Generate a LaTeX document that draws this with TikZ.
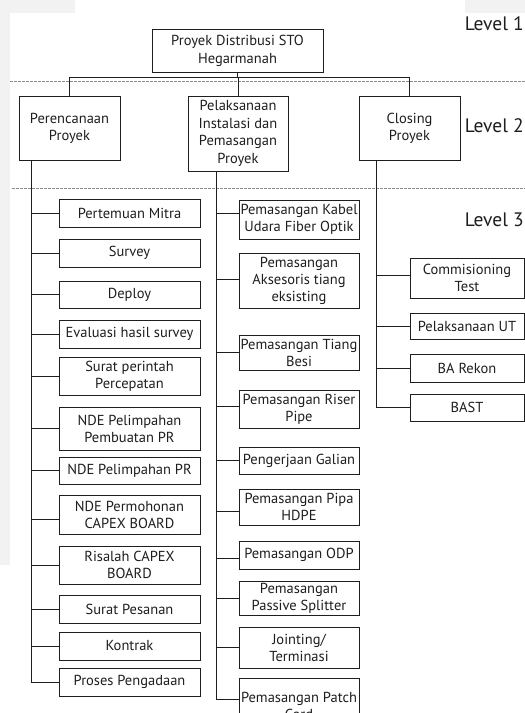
\documentclass[tikz,border=0pt]{standalone}
\usepackage{fontspec}
\setmainfont{PT Sans}
\definecolor{bgray}{HTML}{F2F2F2}
\definecolor{ink}{HTML}{1E1E1E}
\definecolor{dashc}{HTML}{8A8A8A}
\begin{document}
\begin{tikzpicture}[x=1pt,y=-1pt,
  wbox/.style={draw=ink, line width=0.9pt, fill=white, inner sep=0pt, align=center, text=ink,
    font=\fontsize{14.5}{17}\selectfont},
  lbox/.style={wbox, minimum width=141pt},
  mbox/.style={wbox, minimum width=120pt},
  rbox/.style={wbox, minimum width=114pt},
  conn/.style={draw=ink, line width=0.7pt},
  lvl/.style={anchor=base east, inner sep=0pt, text=ink, font=\fontsize{19.5}{22}\selectfont},
  sep/.style={draw=dashc, line width=0.7pt, dash pattern=on 2.5pt off 1.5pt}]
\useasboundingbox (0,0) rectangle (525,713);
\clip (0,0) rectangle (525,713);
\fill[white] (0,0) rectangle (525,713);
\fill[bgray] (0,0) rectangle (75,13);
\fill[bgray] (465,0) rectangle (525,13);
\fill[bgray] (0,13) rectangle (10,565);
% separators
\draw[sep] (10,81) -- (525,81);
\draw[sep] (12,188) -- (525,188);
% level labels
\node[lvl] (lv1) at (524,30) {Level 1};
\node[lvl] (lv2) at (524,132) {Level 2};
\node[lvl] (lv3) at (524,226) {Level 3};
% level 1
\node[wbox, minimum width=171pt, minimum height=43pt, font=\fontsize{14.5}{18}\selectfont] (top) at (237.5,50.5) {Proyek Distribusi STO\\Hegarmanah};
% level 2
\node[wbox, minimum width=101pt, minimum height=64pt] (pa) at (69.5,128) {Perencanaan\\Proyek};
\node[wbox, minimum width=100pt, minimum height=75pt, font=\fontsize{14.5}{17.5}\selectfont] (pb) at (238,133.5) {Pelaksanaan\\Instalasi dan\\Pemasangan\\Proyek};
\node[wbox, minimum width=101pt, minimum height=64pt] (pc) at (409.5,128) {Closing\\Proyek};
\coordinate (bus) at (0,77);
\draw[conn] (top.south) -- (top.south |- bus);
\draw[conn] (pa.north) |- (pc.north |- bus) -- (pc.north);
\draw[conn] (pb.north) -- (pb.north |- bus);
% level 3 left
\node[lbox, minimum height=28pt] (a1) at (129.5,213) {Pertemuan Mitra};
\node[lbox, minimum height=28pt] (a2) at (129.5,253) {Survey};
\node[lbox, minimum height=27pt] (a3) at (129.5,294.5) {Deploy};
\node[lbox, minimum height=28pt] (a4) at (129.5,334) {Evaluasi hasil survey};
\node[lbox, minimum height=38pt] (a5) at (129.5,376) {Surat perintah\\Percepatan};
\node[lbox, minimum height=43pt] (a6) at (129.5,428.5) {NDE Pelimpahan\\Pembuatan PR};
\node[lbox, minimum height=27pt] (a7) at (129.5,470.5) {NDE Pelimpahan PR};
\node[lbox, minimum height=39pt] (a8) at (129.5,514.5) {NDE Permohonan\\CAPEX BOARD};
\node[lbox, minimum height=38pt] (a9) at (129.5,565) {Risalah CAPEX\\BOARD};
\node[lbox, minimum height=28pt] (a10) at (129.5,609) {Surat Pesanan};
\node[lbox, minimum height=28pt] (a11) at (129.5,646) {Kontrak};
\node[lbox, minimum height=28pt] (a12) at (129.5,682) {Proses Pengadaan};
% level 3 middle
\node[mbox, minimum height=39pt] (b1) at (299,219.5) {Pemasangan Kabel\\Udara Fiber Optik};
\node[mbox, minimum height=55pt] (b2) at (299,280.5) {Pemasangan\\Aksesoris tiang\\eksisting};
\node[mbox, minimum height=35pt] (b3) at (299,352.5) {Pemasangan Tiang\\Besi};
\node[mbox, minimum height=38pt] (b4) at (299,409) {Pemasangan Riser\\Pipe};
\node[mbox, minimum height=27pt] (b5) at (299,460.5) {Pengerjaan Galian};
\node[mbox, minimum height=36pt] (b6) at (299,507) {Pemasangan Pipa\\HDPE};
\node[mbox, minimum height=28pt] (b7) at (299,555) {Pemasangan ODP};
\node[mbox, minimum height=34pt] (b8) at (299,598) {Pemasangan\\Passive Splitter};
\node[mbox, minimum height=41pt] (b9) at (299,647.5) {Jointing/\\Terminasi};
\node[mbox, minimum height=55pt] (b10) at (299,705.5) {Pemasangan Patch\\Cord};
% level 3 right
\node[rbox, minimum height=40pt] (c1) at (467,278) {Commisioning\\Test};
\node[rbox, minimum height=26pt] (c2) at (467,326) {Pelaksanaan UT};
\node[rbox, minimum height=28pt] (c3) at (467,368) {BA Rekon};
\node[rbox, minimum height=27pt] (c4) at (467,407.5) {BAST};
% trunks
\coordinate (va) at ([xshift=13pt]pa.south west);
\coordinate (vb) at ([xshift=29pt]pb.south west);
\coordinate (vc) at ([xshift=18pt]pc.south west);
\draw[conn] (va) |- (a12.west);
\draw[conn] (vb) |- ([yshift=6.5pt]b10.west);
\draw[conn] (vc) |- (c4.west);
% branches left
\foreach \i in {1,2,3,4,5,6,7,9,10,11} \draw[conn] (a\i.west) -- (a\i.west -| va);
\draw[conn] ([yshift=-5pt]a8.west) -- ([yshift=-5pt]a8.west -| va);
% branches middle
\draw[conn] ([yshift=6pt]b1.west) -- ([yshift=6pt]b1.west -| vb);
\draw[conn] ([yshift=1.5pt]b2.west) -- ([yshift=1.5pt]b2.west -| vb);
\draw[conn] (b3.west) -- (b3.west -| vb);
\draw[conn] ([yshift=3pt]b4.west) -- ([yshift=3pt]b4.west -| vb);
\draw[conn] (b5.west) -- (b5.west -| vb);
\draw[conn] ([yshift=-4pt]b6.west) -- ([yshift=-4pt]b6.west -| vb);
\draw[conn] ([yshift=-3pt]b7.west) -- ([yshift=-3pt]b7.west -| vb);
\draw[conn] (b8.west) -- (b8.west -| vb);
\draw[conn] (b9.west) -- (b9.west -| vb);
% branches right
\draw[conn] ([yshift=3pt]c1.west) -- ([yshift=3pt]c1.west -| vc);
\draw[conn] (c2.west) -- (c2.west -| vc);
\draw[conn] (c3.west) -- (c3.west -| vc);
\end{tikzpicture}
\end{document}
